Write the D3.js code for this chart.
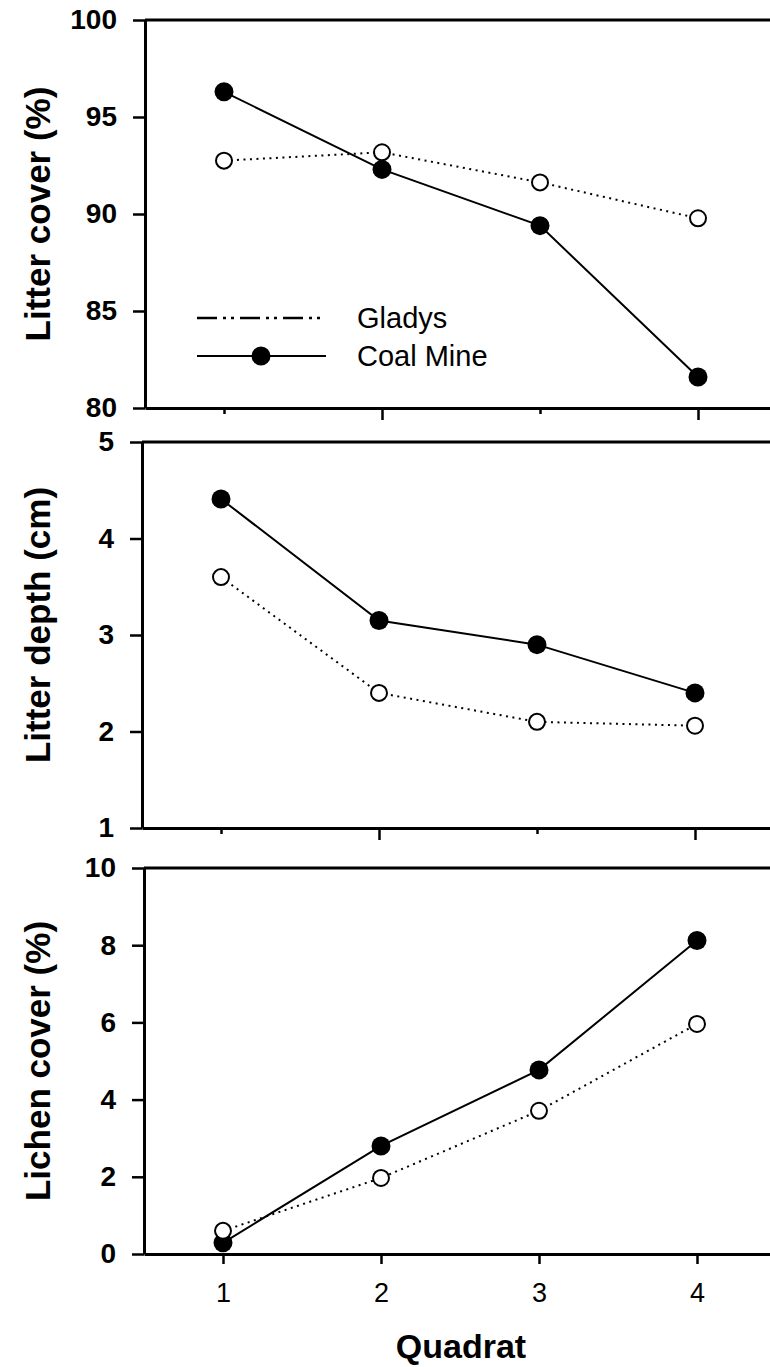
<!DOCTYPE html>
<html>
<head>
<meta charset="utf-8">
<script src="https://cdn.jsdelivr.net/npm/d3@7"></script>
<style>
  body { margin: 0; background: #fff; }
  svg { display: block; font-family: "Liberation Sans", Arial, sans-serif; }
</style>
</head>
<body>
<div id="my_dataviz"></div>
<script>
// values
const quadrats = [1, 2, 3, 4];

const gladysCover = [92.75, 93.18, 91.63, 89.78];
const coalCover   = [96.3, 92.3, 89.4, 81.6];

const gladysDepth = [3.60, 2.40, 2.10, 2.06];
const coalDepth   = [4.41, 3.15, 2.90, 2.40];

const gladysLichen = [0.60, 1.97, 3.71, 5.96];
const coalLichen   = [0.29, 2.80, 4.77, 8.12];

const coverTicks  = [80, 85, 90, 95, 100];
const depthTicks  = [1, 2, 3, 4, 5];
const lichenTicks = [0, 2, 4, 6, 8, 10];

const seriesNames = ["Gladys", "Coal Mine"];
const xTitle = "Quadrat";

const width = 770, height = 1367;

const svg = d3.select("#my_dataviz")
  .append("svg")
    .attr("width", width)
    .attr("height", height);

const panels = [
  {top: 20,  bottom: 408,  left: 145, title: "Litter cover (%)",  ticks: coverTicks,  gladys: gladysCover,  coal: coalCover,  titleShift: 0,   labels: false, legend: true},
  {top: 442, bottom: 828,  left: 142, title: "Litter depth (cm)", ticks: depthTicks,  gladys: gladysDepth,  coal: coalDepth,  titleShift: -10, labels: false, legend: false},
  {top: 868, bottom: 1254, left: 144, title: "Lichen cover (%)",  ticks: lichenTicks, gladys: gladysLichen, coal: coalLichen, titleShift: 0,   labels: true,  legend: false}
];

function make_x_scale(p){
    return d3.scaleLinear()
            .domain([0.5, 4.5])
            .range([p.left, p.left + 632]);
}

function make_y_scale(p){
    return d3.scaleLinear()
            .domain(d3.extent(p.ticks))
            .range([p.bottom, p.top]);
}

panels.forEach(function(p) {
    const x = make_x_scale(p)
    const y = make_y_scale(p)
    const g = svg.append("g")

    // top frame line
    g.append("line")
      .attr("x1", p.left).attr("x2", width)
      .attr("y1", y(y.domain()[1])).attr("y2", y(y.domain()[1]))
      .attr("stroke", "black")
      .attr("stroke-width", 3)

    // y axis
    const ya = g.append("g")
      .attr("transform", `translate(${p.left},0)`)
      .call(d3.axisLeft(y).tickValues(p.ticks).tickFormat(d3.format("d"))
        .tickSize(12).tickPadding(16).tickSizeOuter(0))
    ya.select(".domain").attr("stroke-width", 3)
    ya.selectAll(".tick line").attr("stroke-width", 2.5)
    ya.selectAll(".tick text")
      .style("font-size", "28px")
      .style("font-weight", "bold")
      .style("font-family", "'Liberation Sans', Arial, sans-serif")

    // x axis
    const xa = g.append("g")
      .attr("transform", `translate(0,${p.bottom})`)
      .call(d3.axisBottom(x).tickValues(quadrats).tickFormat(d3.format("d"))
        .tickSize(10).tickPadding(19).tickSizeOuter(0))
    xa.select(".domain").attr("stroke-width", 3)
    xa.selectAll(".tick line").attr("stroke-width", 2.5)
    if (p.labels) {
      xa.selectAll(".tick text")
        .style("font-size", "27px")
        .style("font-family", "'Liberation Sans', Arial, sans-serif")
    } else {
      xa.selectAll(".tick text").remove()
      xa.selectAll(".tick line").attr("y2", d => d % 2 ? 6 : 12)
    }

    // y title
    g.append("text")
      .attr("transform", `translate(50,${(p.top + p.bottom) / 2 + p.titleShift}) rotate(-90)`)
      .attr("text-anchor", "middle")
      .style("font-size", "35px")
      .style("font-weight", "bold")
      .text(p.title)

    const line = d3.line()
      .x((d, i) => x(quadrats[i]))
      .y(d => y(d))

    g.append("path")
      .datum(p.gladys)
      .attr("d", line)
      .attr("fill", "none")
      .attr("stroke", "black")
      .attr("stroke-width", 2)
      .attr("stroke-dasharray", "2,4.5")

    g.append("path")
      .datum(p.coal)
      .attr("d", line)
      .attr("fill", "none")
      .attr("stroke", "black")
      .attr("stroke-width", 2)

    g.selectAll(".coal")
      .data(p.coal)
      .join("circle")
        .attr("class", "coal")
        .attr("cx", (d, i) => x(quadrats[i]))
        .attr("cy", d => y(d))
        .attr("r", 9.5)
        .attr("fill", "black")

    g.selectAll(".gladys")
      .data(p.gladys)
      .join("circle")
        .attr("class", "gladys")
        .attr("cx", (d, i) => x(quadrats[i]))
        .attr("cy", d => y(d))
        .attr("r", 8)
        .attr("fill", "white")
        .attr("stroke", "black")
        .attr("stroke-width", 2)

    if (p.legend) {
      const lg = g.append("g")
      lg.append("line")
        .attr("x1", 197).attr("x2", 320)
        .attr("y1", 318).attr("y2", 318)
        .attr("stroke", "black")
        .attr("stroke-width", 2.5)
        .attr("stroke-dasharray", "20,6,3,5,3,6")
      lg.append("line")
        .attr("x1", 197).attr("x2", 326)
        .attr("y1", 356).attr("y2", 356)
        .attr("stroke", "black")
        .attr("stroke-width", 2)
      lg.append("circle")
        .attr("cx", 261).attr("cy", 356)
        .attr("r", 9.5)
        .attr("fill", "black")
      lg.selectAll("text")
        .data(seriesNames)
        .join("text")
          .attr("x", 357)
          .attr("y", (d, i) => i ? 356 : 318)
          .attr("dy", "0.36em")
          .style("font-size", "29px")
          .text(d => d)
    }
});

svg.append("text")
  .attr("x", 461)
  .attr("y", 1358)
  .attr("text-anchor", "middle")
  .style("font-size", "34px")
  .style("font-weight", "bold")
  .text(xTitle)
</script>
</body>
</html>
